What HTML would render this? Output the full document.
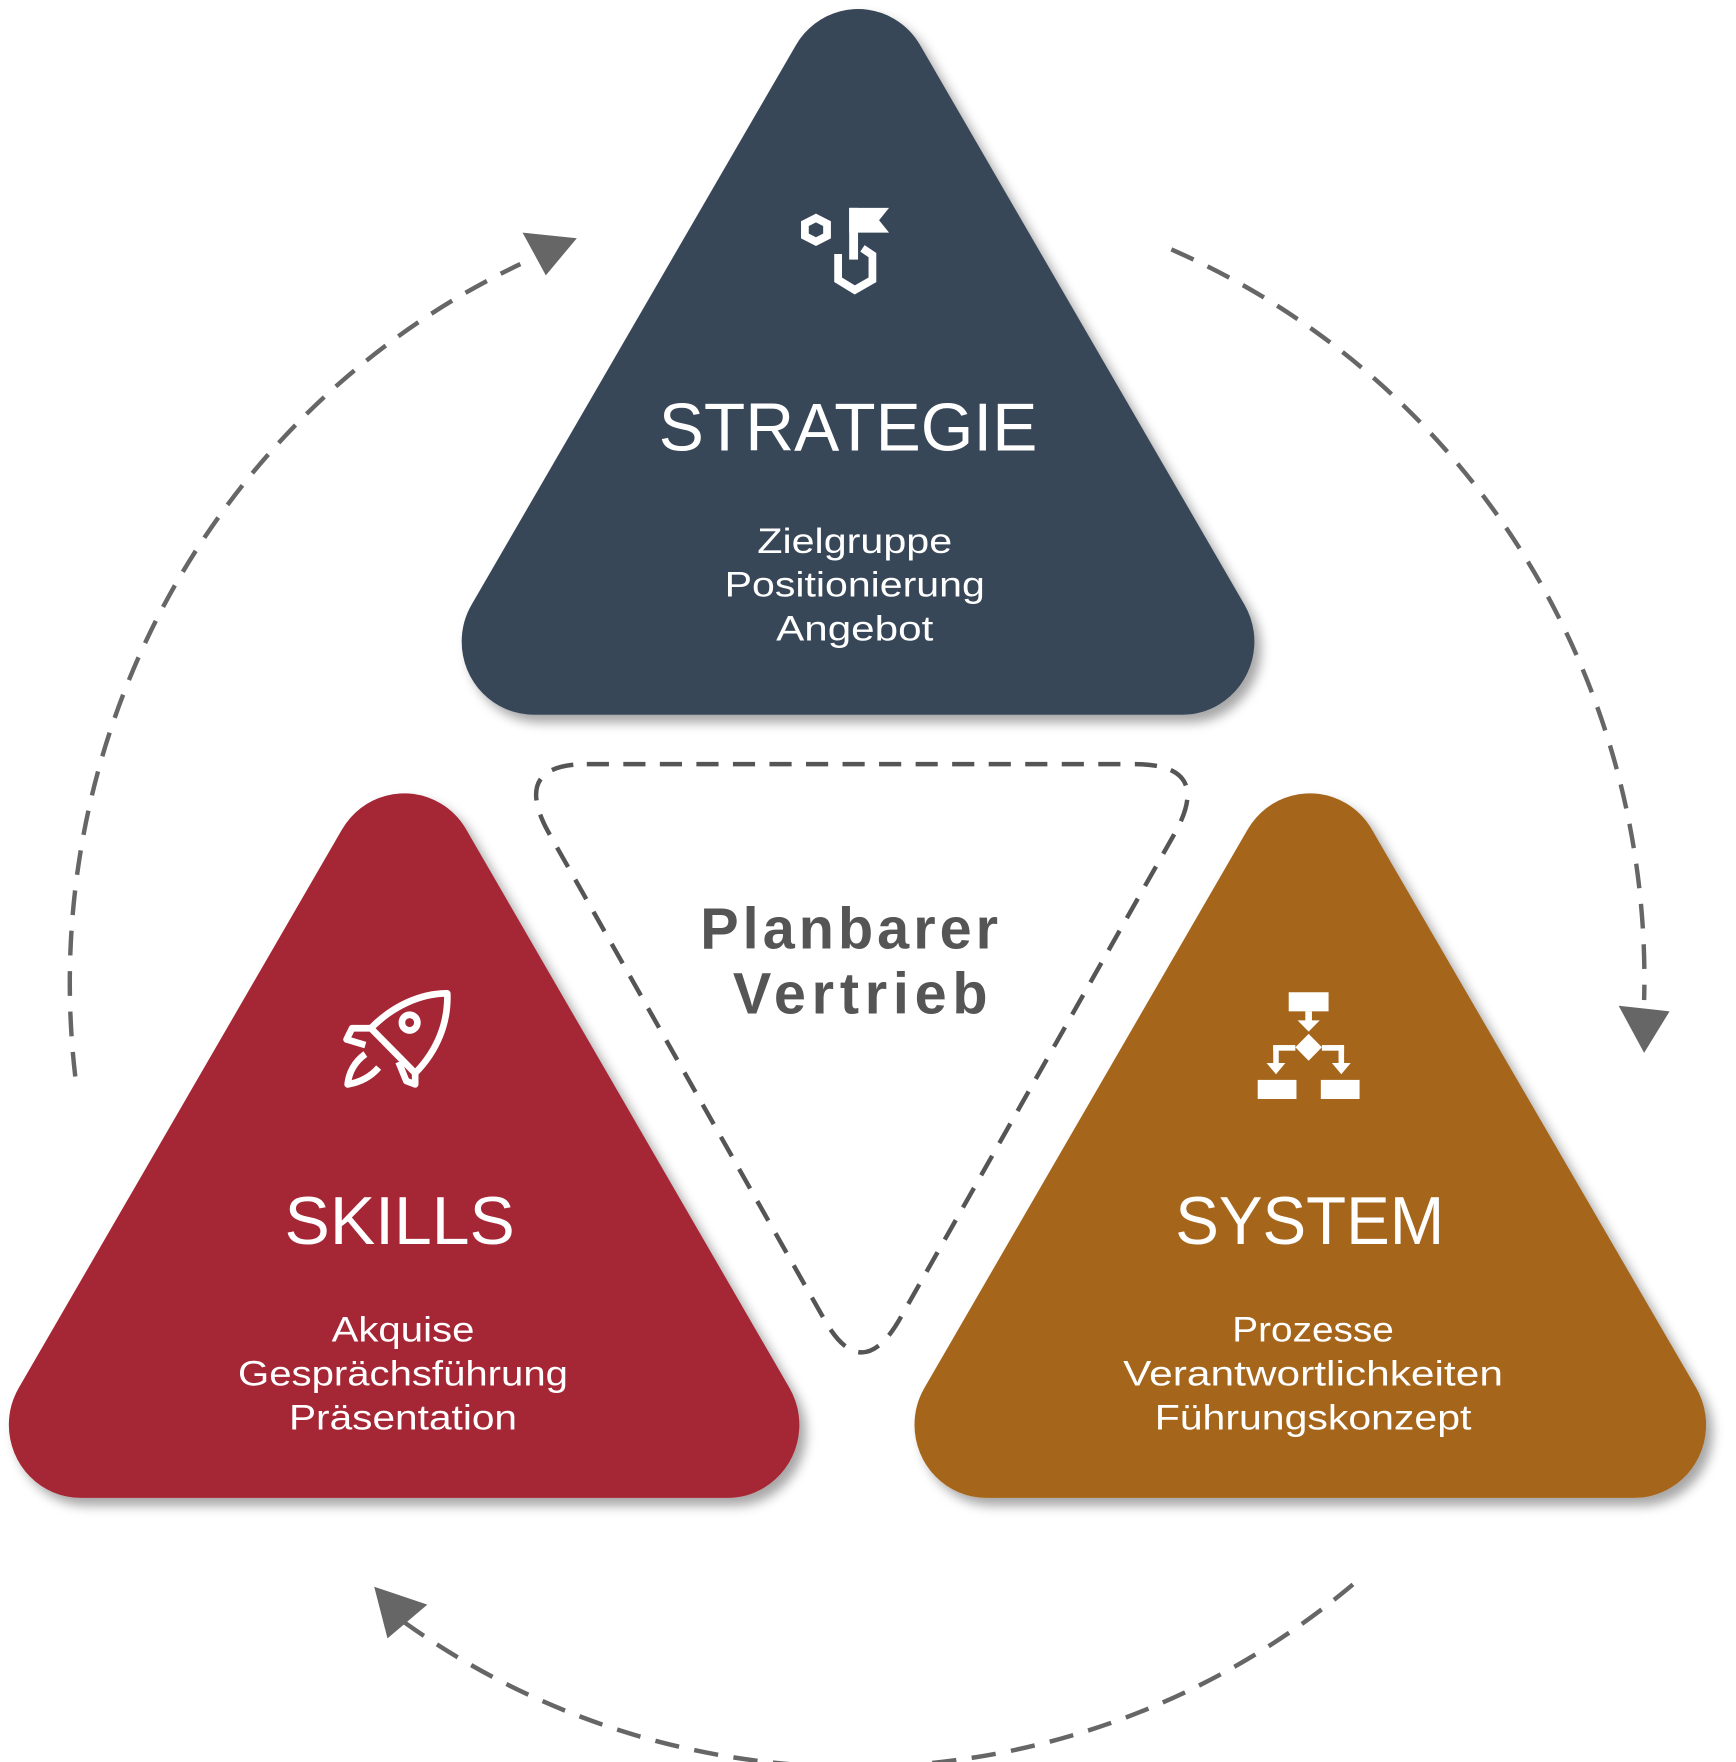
<!DOCTYPE html>
<html><head><meta charset="utf-8"><style>
html,body{margin:0;padding:0;background:#fff;width:1736px;height:1762px;overflow:hidden}
svg{display:block}
</style></head><body>
<svg width="1736" height="1762" viewBox="0 0 1568 1568" preserveAspectRatio="none" xmlns="http://www.w3.org/2000/svg">
<defs>
<filter id="sh" x="-10%" y="-10%" width="130%" height="130%">
<feDropShadow dx="6" dy="7" stdDeviation="5" flood-color="#000" flood-opacity="0.35"/>
</filter>
</defs>
<g fill="none" stroke="#666" stroke-width="4" stroke-dasharray="22 14">
<path d="M68 958 A706 706 0 0 1 470 235"/>
<path d="M1058 222 A706 706 0 0 1 1485 890"/>
<path d="M1222 1410 A706 706 0 0 1 360 1440"/>
</g>
<g fill="#666">
<polygon points="472,207 521,212 493,245"/>
<polygon points="1462,895 1508,900 1485,937"/>
<polygon points="338,1412 386,1428 350,1458"/>
</g>
<g filter="url(#sh)" stroke-linejoin="round" stroke-width="130">
<polygon points="775,73 1068,571 482,571" fill="#394759" stroke="#394759"/>
<polygon points="365,771 657,1268 73,1268" fill="#a52735" stroke="#a52735"/>
<polygon points="1183,771 1476,1268 891,1268" fill="#a5661a" stroke="#a5661a"/>
</g>
<path d="M530 680 L1025 680 Q1095 680 1062 740 L812 1175 Q778 1232 745 1175 L495 740 Q462 680 530 680 Z" fill="none" stroke="#555" stroke-width="4" stroke-dasharray="20 13"/>
<g font-family="Liberation Sans, sans-serif" fill="#fff" text-anchor="middle">
<text x="766" y="401" font-size="60" textLength="342" lengthAdjust="spacingAndGlyphs">STRATEGIE</text>
<text x="772" y="492" font-size="31" textLength="176" lengthAdjust="spacingAndGlyphs">Zielgruppe</text>
<text x="772" y="531" font-size="31" textLength="235" lengthAdjust="spacingAndGlyphs">Positionierung</text>
<text x="772" y="570" font-size="31" textLength="142" lengthAdjust="spacingAndGlyphs">Angebot</text>
<text x="361" y="1107" font-size="60" textLength="208" lengthAdjust="spacingAndGlyphs">SKILLS</text>
<text x="364" y="1194" font-size="31" textLength="129" lengthAdjust="spacingAndGlyphs">Akquise</text>
<text x="364" y="1233" font-size="31" textLength="298" lengthAdjust="spacingAndGlyphs">Gesprächsführung</text>
<text x="364" y="1272" font-size="31" textLength="206" lengthAdjust="spacingAndGlyphs">Präsentation</text>
<text x="1183" y="1107" font-size="60" textLength="243" lengthAdjust="spacingAndGlyphs">SYSTEM</text>
<text x="1186" y="1194" font-size="31" textLength="146" lengthAdjust="spacingAndGlyphs">Prozesse</text>
<text x="1186" y="1233" font-size="31" textLength="343" lengthAdjust="spacingAndGlyphs">Verantwortlichkeiten</text>
<text x="1186" y="1272" font-size="31" textLength="286" lengthAdjust="spacingAndGlyphs">Führungskonzept</text>
</g>
<g font-family="Liberation Sans, sans-serif" fill="#555" font-weight="bold" text-anchor="middle">
<text x="767" y="844" font-size="52" textLength="269" lengthAdjust="spacing">Planbarer</text>
<text x="777" y="902" font-size="52" textLength="230" lengthAdjust="spacing">Vertrieb</text>
</g>
<!-- strategy icon -->
<g fill="none" stroke="#fff" stroke-width="7">
<polygon points="737,194 747,199 747,210 737,215 727,210 727,199"/>
<path d="M757 226 L757 249 L772 258 L788 249 L788 227 L779 221"/>
</g>
<g fill="#fff">
<rect x="767" y="185" width="8" height="46"/>
<polygon points="767,185 803,185 794,196 803,207 767,207"/>
</g>
<!-- rocket icon -->
<g fill="none" stroke="#fff" stroke-width="6" stroke-linejoin="round">
<path d="M404 884 C380 884 355 895 335 915 L355 935 L375 955 C395 935 405 910 404 884 Z"/>
<circle cx="370" cy="910" r="7"/>
<path d="M335 915 L318 915 L313 925 L330 930"/>
<path d="M375 955 L375 965 L367 962 L360 945"/>
<path d="M330 938 C320 945 315 955 314 965 C326 963 335 958 342 950"/>
</g>
<!-- system icon -->
<g fill="#fff">
<rect x="1164" y="883" width="36" height="17"/>
<rect x="1179" y="900" width="6" height="14"/>
<polygon points="1172,908 1192,908 1182,918"/>
<polygon points="1182,920 1194,932 1182,944 1170,932"/>
<rect x="1150" y="930" width="20" height="5"/>
<rect x="1194" y="930" width="20" height="5"/>
<rect x="1150" y="930" width="5" height="20"/>
<rect x="1209" y="930" width="5" height="20"/>
<polygon points="1144,946 1161,946 1152.5,956"/>
<polygon points="1203,946 1220,946 1211.5,956"/>
<rect x="1136" y="961" width="35" height="17"/>
<rect x="1193" y="961" width="35" height="17"/>
</g>
</svg>
</body></html>
